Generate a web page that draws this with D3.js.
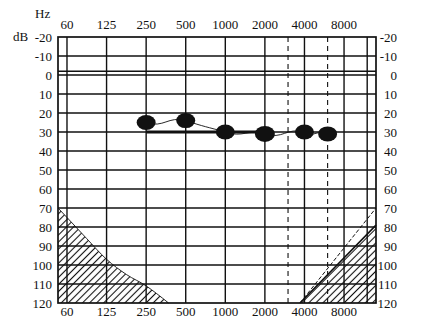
<html>
<head>
<meta charset="UTF-8">
<script src="https://d3js.org/d3.v7.min.js"></script>
<style>
  body { margin: 0; background: #fff; }
  text { font-family: "Liberation Serif", "DejaVu Serif", serif; font-size: 13px; fill: #111; }
</style>
</head>
<body>
<svg id="chart" width="421" height="326"></svg>
<script>
// frequency ticks (60 label sits on the 62.5 Hz octave line)
const freqTicks = [62.5, 125, 250, 500, 1000, 2000, 4000, 8000];
const freqLabels = ["60", "125", "250", "500", "1000", "2000", "4000", "8000"];
const extraSolid = [12000];
const dashedFreqs = [3000, 6000];
const dbTicks = [-20, -10, 0, 10, 20, 30, 40, 50, 60, 70, 80, 90, 100, 110, 120];

// thresholds
const testFreqs = [250, 500, 1000, 2000, 4000, 6000];
const testDb = [25, 24, 30, 31, 30, 31];
const barFreqs = [250, 2000];
const barDb = 30;

// hatched areas (freq, dB)
const leftArea = [[53.4, 70], [62.5, 75], [88, 86], [125, 97], [177, 105], [250, 111], [300, 115], [370, 120]];
const rightArea = [[3700, 120], [14000, 79]];
const rightDash = [[3700, 120], [14000, 70]];

const svg = d3.select("svg#chart");
const x = d3.scaleLog().base(2).domain([53.4, 14000]).range([58, 376]);
const y = d3.scaleLinear().domain([-20, 120]).range([37, 303]);
const ink = "#111";

// hatch pattern
const defs = svg.append("defs");
defs.append("pattern")
  .attr("id", "hatch")
  .attr("patternUnits", "userSpaceOnUse")
  .attr("width", 5).attr("height", 5)
  .attr("patternTransform", "rotate(45)")
  .append("line")
  .attr("x1", 2.5).attr("y1", 0).attr("x2", 2.5).attr("y2", 5)
  .attr("stroke", ink).attr("stroke-width", 1.1);

const line = d3.line().x(d => x(d[0])).y(d => y(d[1]));
const curved = d3.line().x(d => x(d[0])).y(d => y(d[1])).curve(d3.curveMonotoneX);

// left hatched region
svg.append("path")
  .attr("d", curved(leftArea) + "L" + x(53.4) + "," + y(120) + "Z")
  .attr("fill", "url(#hatch)").attr("stroke", "none");
svg.append("path")
  .attr("d", curved(leftArea))
  .attr("fill", "none").attr("stroke", ink).attr("stroke-width", 0.9);

// right hatched region
svg.append("path")
  .attr("d", line(rightArea.concat([[14000, 120]])) + "Z")
  .attr("fill", "url(#hatch)").attr("stroke", "none");
svg.append("path")
  .attr("d", line(rightArea))
  .attr("fill", "none").attr("stroke", ink).attr("stroke-width", 1.6);
svg.append("path")
  .attr("d", line(rightDash))
  .attr("fill", "none").attr("stroke", ink).attr("stroke-width", 1)
  .attr("stroke-dasharray", "4,2");

// grid
const grid = svg.append("g").attr("stroke", ink).attr("stroke-width", 1.4);
grid.selectAll("line.h").data(dbTicks.slice(1, -1)).join("line")
  .attr("x1", x(53.4)).attr("x2", x(14000))
  .attr("y1", d => y(d)).attr("y2", d => y(d));
grid.append("line")
  .attr("x1", x(53.4)).attr("x2", x(14000))
  .attr("y1", y(-2)).attr("y2", y(-2));
grid.selectAll("line.v").data(freqTicks.concat(extraSolid)).join("line")
  .attr("x1", d => x(d)).attr("x2", d => x(d))
  .attr("y1", y(-20)).attr("y2", y(120));
svg.append("g").selectAll("line").data(dashedFreqs).join("line")
  .attr("x1", d => x(d)).attr("x2", d => x(d))
  .attr("y1", y(-20)).attr("y2", y(120))
  .attr("stroke", ink).attr("stroke-width", 1.1)
  .attr("stroke-dasharray", "5,4");
svg.append("rect")
  .attr("x", x(53.4)).attr("y", y(-20))
  .attr("width", x(14000) - x(53.4)).attr("height", y(120) - y(-20))
  .attr("fill", "none").attr("stroke", ink).attr("stroke-width", 1.7);

// labels
svg.selectAll("text.top").data(freqTicks).join("text")
  .attr("class", "top")
  .attr("x", d => x(d)).attr("y", 29).attr("text-anchor", "middle")
  .text((d, i) => freqLabels[i]);
svg.selectAll("text.bot").data(freqTicks).join("text")
  .attr("class", "bot")
  .attr("x", d => x(d)).attr("y", 316).attr("text-anchor", "middle")
  .text((d, i) => freqLabels[i]);
svg.selectAll("text.yl").data(dbTicks).join("text")
  .attr("class", "yl")
  .attr("x", 52).attr("y", d => y(d) + 4.5).attr("text-anchor", "end")
  .text(d => d);
svg.selectAll("text.yr").data(dbTicks).join("text")
  .attr("class", "yr")
  .attr("x", 397).attr("y", d => y(d) + 4.5).attr("text-anchor", "end")
  .text(d => d);
svg.append("text").attr("x", 35).attr("y", 18).text("Hz");
svg.append("text").attr("x", 13).attr("y", 41).text("dB");

// thick bar
svg.append("line")
  .attr("x1", x(barFreqs[0])).attr("x2", x(barFreqs[1]))
  .attr("y1", y(barDb)).attr("y2", y(barDb))
  .attr("stroke", ink).attr("stroke-width", 3.2);

// thin wavy connectors between points
const pts = testFreqs.map((f, i) => [x(f), y(testDb[i])]);
const conn = svg.append("g").attr("fill", "none").attr("stroke", ink).attr("stroke-width", 0.9);
for (let i = 0; i < pts.length - 1; i++) {
  const [x0, y0] = pts[i], [x1, y1] = pts[i + 1];
  const dx = x1 - x0;
  conn.append("path").attr("d",
    `M${x0},${y0} C${x0 + dx * 0.45},${y0 + 6} ${x0 + dx * 0.55},${y1 - 5} ${x1},${y1}`);
}

// blobs
svg.selectAll("ellipse").data(testFreqs).join("ellipse")
  .attr("cx", d => x(d)).attr("cy", (d, i) => y(testDb[i]))
  .attr("rx", (d, i) => i === 3 ? 10 : 9.5)
  .attr("ry", (d, i) => i === 3 ? 8 : 7.5)
  .attr("fill", ink);
</script>
</body>
</html>
